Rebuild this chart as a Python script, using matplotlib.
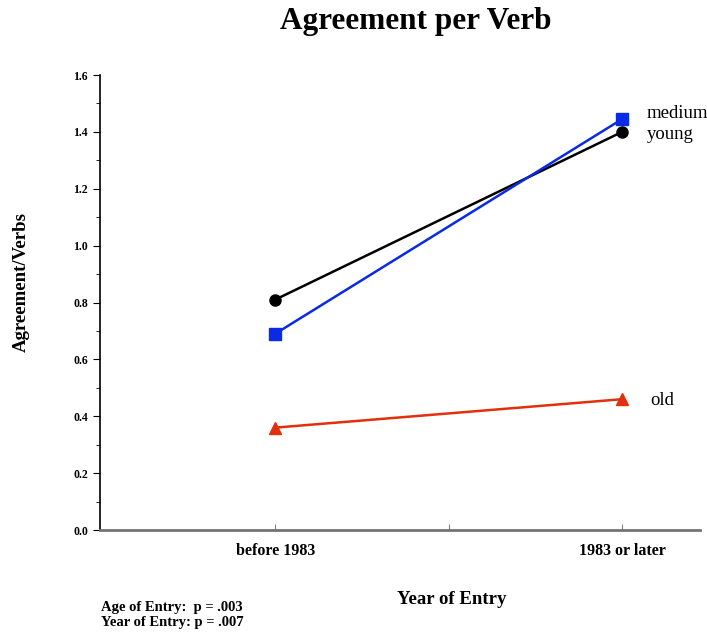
import matplotlib
matplotlib.use("Agg")
import matplotlib.pyplot as plt
from matplotlib.ticker import MultipleLocator

# data
periods = ["before 1983", "1983 or later"]
young = [0.81, 1.40]
medium = [0.69, 1.445]
old = [0.36, 0.46]

plt.rcParams['font.family'] = ['Liberation Serif', 'DejaVu Serif']

fig = plt.figure(figsize=(7.07, 6.33), dpi=100)
ax = fig.add_axes([0.1414, 0.1627, 0.849, 0.7188])

x = list(range(len(periods)))
ax.plot(x, young, color='black', lw=1.8, marker='o', markersize=8)
ax.plot(x, medium, color='#0a2ae6', lw=1.8, marker='s', markersize=8)
ax.plot(x, old, color='#e2300c', lw=1.8, marker='^', markersize=8)

# series labels at the right ends
ax.text(1.07, 1.463, 'medium', fontsize=13.5, va='center')
ax.text(1.07, 1.392, 'young', fontsize=13.5, va='center')
ax.text(1.08, 0.457, 'old', fontsize=13.5, va='center')

ax.set_xlim(-0.505, 1.225)
ax.set_ylim(0, 1.6)
ax.yaxis.set_major_locator(MultipleLocator(0.2))
ax.yaxis.set_minor_locator(MultipleLocator(0.1))
ax.set_yticklabels([f'{v:.1f}' for v in ax.get_yticks()], fontsize=8.5, fontweight='bold')
ax.set_xticks([0, 0.5, 1])
ax.set_xticklabels([periods[0], '', periods[1]], fontsize=11.5, fontweight='bold')
ax.tick_params(axis='x', direction='in', length=4, color='0.5', pad=9)
ax.tick_params(axis='y', which='major', length=5)
ax.tick_params(axis='y', which='minor', length=3)

for s in ['top', 'right']:
    ax.spines[s].set_visible(False)
ax.spines['bottom'].set_color('0.45')
ax.spines['bottom'].set_linewidth(2)
ax.spines['left'].set_linewidth(1.2)

fig.text(0.588, 0.966, 'Agreement per Verb', fontsize=22.5, fontweight='bold',
         ha='center', va='center')
fig.text(0.030, 0.555, 'Agreement/Verbs', fontsize=13.5, fontweight='bold',
         rotation=90, ha='center', va='center')
fig.text(0.639, 0.053, 'Year of Entry', fontsize=13.5, fontweight='bold',
         ha='center', va='center')
fig.text(0.143, 0.041, 'Age of Entry:  p = .003', fontsize=10.5, fontweight='bold',
         va='center')
fig.text(0.143, 0.017, 'Year of Entry: p = .007', fontsize=10.5, fontweight='bold',
         va='center')

fig.savefig('out.png', dpi=100)
